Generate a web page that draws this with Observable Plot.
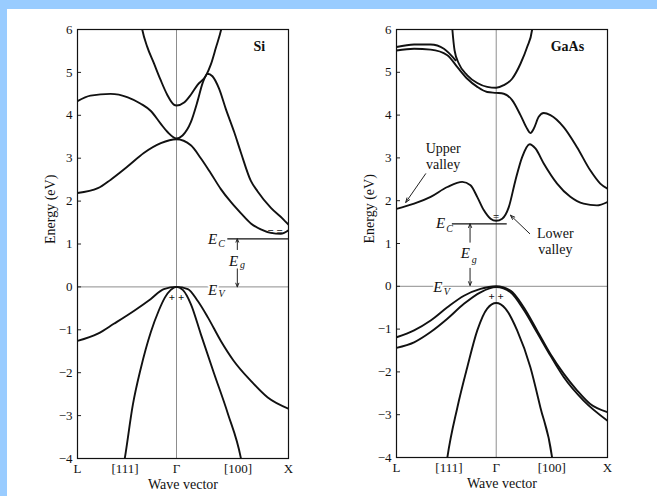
<!DOCTYPE html>
<html><head><meta charset="utf-8">
<script src="https://cdn.jsdelivr.net/npm/d3@7"></script>
<script src="https://cdn.jsdelivr.net/npm/@observablehq/plot@0.6"></script>
<style>
body{margin:0;background:#99ccff;width:657px;height:496px;overflow:hidden;position:relative;font-family:"Liberation Serif",serif}
#sheet{position:absolute;left:7px;top:9px;width:650px;height:487px;background:#fff}
.panel{position:absolute;top:0}
</style></head><body>
<div id="sheet"></div>
<div id="si" class="panel" style="left:0"></div>
<div id="gaas" class="panel" style="left:330px"></div>
<script>
// ---- shared axis data ----
const yTicks = [-4,-3,-2,-1,0,1,2,3,4,5,6];
const xTickLabels = ["L","[111]","Γ","[100]","X"];
const siXTicks = [-0.884,-0.46,0,0.55,1];
const gaasXTicks = [-0.896,-0.425,0,0.5,1];

// ---- Si bands: [k, E(eV)] ----
const siBandA = [[-0.32,6.2],[-0.306,6.0],[-0.262,5.6],[-0.203,5.22],[-0.143,4.83],[-0.083,4.48],[-0.024,4.25],[0,4.23],[0.068,4.3],[0.128,4.48],[0.188,4.71],[0.262,4.92],[0.306,5.18],[0.351,5.57],[0.405,6.07],[0.415,6.2]];
const siBandB = [[-0.884,4.33],[-0.768,4.46],[-0.589,4.5],[-0.435,4.42],[-0.319,4.27],[-0.229,4.1],[-0.14,3.8],[-0.08,3.61],[0,3.46],[0.054,3.53],[0.128,3.84],[0.188,4.33],[0.233,4.75],[0.277,4.97],[0.321,4.91],[0.38,4.62],[0.44,4.15],[0.515,3.61],[0.574,3.14],[0.664,2.47],[0.723,2.23],[0.843,1.84],[0.956,1.57],[1,1.45]];
const siBandC = [[-0.884,2.19],[-0.702,2.3],[-0.587,2.5],[-0.435,2.81],[-0.292,3.12],[-0.14,3.35],[0,3.44],[0.128,3.3],[0.217,3.0],[0.306,2.65],[0.396,2.28],[0.485,1.98],[0.574,1.72],[0.664,1.48],[0.753,1.34],[0.842,1.26],[0.932,1.24],[1,1.32]];
const siBandV1 = [[-0.884,-1.26],[-0.702,-1.09],[-0.56,-0.86],[-0.381,-0.56],[-0.229,-0.28],[-0.113,-0.05],[0,0],[0.101,-0.05],[0.19,-0.33],[0.28,-0.71],[0.396,-1.26],[0.51,-1.72],[0.664,-2.19],[0.815,-2.58],[1,-2.84]];
const siBandV2 = [[-0.475,-4.2],[-0.462,-4.0],[-0.39,-2.75],[-0.319,-1.9],[-0.229,-1.05],[-0.158,-0.55],[-0.104,-0.25],[-0.051,-0.07],[0,0],[0.056,-0.07],[0.128,-0.4],[0.217,-1.1],[0.333,-2.0],[0.458,-2.95],[0.574,-3.98],[0.59,-4.2]];

// ---- GaAs bands: [k, E(eV)] ----
const gaasBandP = [[-0.4,6.2],[-0.394,6.0],[-0.374,5.51],[-0.335,5.2],[-0.26,4.93],[-0.17,4.75],[-0.081,4.66],[0,4.64],[0.068,4.7],[0.143,4.85],[0.218,5.2],[0.278,5.59],[0.323,6.0],[0.33,6.2]];
const gaasBandU1 = [[-0.896,5.59],[-0.738,5.65],[-0.589,5.65],[-0.47,5.55],[-0.365,5.28]];
const gaasBandU2 = [[-0.896,5.51],[-0.738,5.55],[-0.589,5.53],[-0.439,5.4],[-0.349,5.12],[-0.26,4.85],[-0.17,4.66],[-0.081,4.54],[0,4.52],[0.068,4.5],[0.143,4.35],[0.218,4.0],[0.278,3.68],[0.307,3.58],[0.337,3.68],[0.382,3.96],[0.427,4.05],[0.487,4.0],[0.606,3.72],[0.726,3.25],[0.845,2.71],[0.935,2.4],[1,2.28]];
const gaasBandC = [[-0.896,1.81],[-0.738,1.93],[-0.589,2.09],[-0.439,2.32],[-0.305,2.44],[-0.231,2.36],[-0.171,2.09],[-0.112,1.78],[-0.051,1.58],[0,1.53],[0.054,1.58],[0.113,1.85],[0.173,2.48],[0.233,3.02],[0.301,3.32],[0.352,3.22],[0.427,2.87],[0.547,2.4],[0.666,2.09],[0.785,1.93],[0.905,1.89],[1,1.97]];
const gaasBandV1 = [[-0.896,-1.19],[-0.738,-1.03],[-0.589,-0.8],[-0.439,-0.49],[-0.29,-0.22],[-0.141,-0.06],[0,0],[0.128,-0.1],[0.247,-0.49],[0.367,-1.03],[0.487,-1.58],[0.606,-2.04],[0.726,-2.43],[0.845,-2.75],[1,-2.94]];
const gaasBandV2 = [[-0.896,-1.44],[-0.738,-1.31],[-0.589,-1.07],[-0.439,-0.76],[-0.29,-0.41],[-0.141,-0.14],[0,-0.02],[0.128,-0.14],[0.247,-0.55],[0.367,-1.08],[0.487,-1.62],[0.606,-2.12],[0.785,-2.67],[1,-3.14]];
const gaasBandV3 = [[-0.45,-4.2],[-0.439,-4.0],[-0.349,-2.83],[-0.26,-1.89],[-0.17,-1.03],[-0.081,-0.52],[0,-0.39],[0.083,-0.52],[0.188,-1.03],[0.307,-1.89],[0.397,-2.83],[0.502,-4.0],[0.512,-4.2]];

// ---- band edges and annotations ----
const siEc = [{E:1.12, k1:0.458, k2:1}];
const gaasEc = [{E:1.46, k1:-0.394, k2:0.099}];
const siGapArrows = [[0.543,0.87,0.543,1.12],[0.543,0.42,0.543,0]];
const gaasGapArrows = [[-0.235,1.03,-0.235,1.46],[-0.235,0.42,-0.235,0.02]];
const siMath = [{k:0.322,E:1.12,sub:"C",dx:9,dy:5},{k:0.322,E:-0.07,sub:"V",dx:9,dy:4},{k:0.51,E:0.605,sub:"g",dx:9,dy:4}];
const gaasMath = [{k:-0.5,E:1.47,sub:"C",dx:9,dy:5},{k:-0.525,E:-0.02,sub:"V",dx:9,dy:5},{k:-0.278,E:0.77,sub:"g",dx:9,dy:6}];
const siTitle = [{text:"Si",k:0.74,E:5.6}];
const gaasTitle = [{text:"GaAs",k:0.64,E:5.6}];
const gaasNotes = [{text:"Upper\nvalley",k:-0.477,E:3.05},{text:"Lower\nvalley",k:0.531,E:1.07}];
const gaasNoteArrows = [[-0.634,2.63,-0.813,1.96],[0.301,1.23,0.128,1.66]];
const siCarriers = [{text:"+ +",k:0,E:-0.24},{text:"= =",k:0.88,E:1.29}];
const gaasCarriers = [{text:"+ +",k:0,E:-0.23},{text:"=",k:0,E:1.63}];

const FONT = "Liberation Serif";

function panel(c) {
  const tickLabel = new Map(c.xTicks.map((t, i) => [t, xTickLabels[i]]));
  const band = b => Plot.line(b, {x: d => d[0], y: d => d[1], curve: "monotone-x", stroke: "#111", strokeWidth: 1.9, clip: true});
  const tickLen = 0.036;
  return Plot.plot({
    width: c.width, height: 496,
    marginLeft: c.marginLeft, marginRight: c.marginRight, marginTop: 29, marginBottom: c.marginBottom,
    style: {background: "transparent", fontFamily: FONT, fontSize: "13px", color: "#111"},
    x: {domain: c.domain, axis: null},
    y: {domain: [-4, 6], axis: null},
    marks: [
      Plot.ruleX([0], {stroke: "#808080", strokeWidth: 0.9}),
      Plot.ruleY([0], {stroke: "#808080", strokeWidth: 0.9}),
      Plot.ruleY(yTicks, {y: d => d, x1: c.domain[0], x2: c.domain[0] + tickLen, stroke: "#222", strokeWidth: 1}),
      Plot.ruleY(c.ec, {y: "E", x1: "k1", x2: "k2", stroke: "#111", strokeWidth: 1.2}),
      ...c.bands.map(band),
      Plot.arrow(c.gapArrows, {x1: d => d[0], y1: d => d[1], x2: d => d[2], y2: d => d[3], stroke: "#222", strokeWidth: 1, headLength: 6, headAngle: 45}),
      Plot.text(c.math, {x: "k", y: "E", text: () => "E", fontStyle: "italic", fontSize: 15, fill: "#111", stroke: "white", strokeWidth: 4, paintOrder: "stroke"}),
      ...c.math.map(m => Plot.text([m], {x: "k", y: "E", text: "sub", dx: m.dx, dy: m.dy, fontStyle: "italic", fontSize: 10, fill: "#111"})),
      Plot.text(c.title, {x: "k", y: "E", text: "text", fontWeight: "bold", fontSize: 14, fill: "#111"}),
      Plot.text(c.carriers, {x: "k", y: "E", text: "text", fontSize: 11, fontWeight: "bold", fill: "#111"}),
      Plot.text(c.notes, {x: "k", y: "E", text: "text", fontSize: 14, lineHeight: 1.15, fill: "#111"}),
      Plot.arrow(c.noteArrows, {x1: d => d[0], y1: d => d[1], x2: d => d[2], y2: d => d[3], stroke: "#222", strokeWidth: 1, headLength: 7, headAngle: 40}),
      Plot.frame({stroke: "#111", strokeWidth: 1.2}),
      Plot.axisY(yTicks, {anchor: "left", tickSize: 0, tickPadding: 5, label: null, fontSize: 13, tickFormat: d => d < 0 ? "\u2212" + (-d) : String(d)}),
      Plot.axisX(c.xTicks, {anchor: "bottom", tickSize: 0, tickPadding: 5, label: null, fontSize: 13, tickFormat: d => tickLabel.get(d)}),
      Plot.text(["Wave vector"], {frameAnchor: "bottom", dy: 30, fontSize: 14, fill: "#111"}),
      Plot.text(["Energy (eV)"], {frameAnchor: "left", dx: -27, rotate: -90, fontSize: 14, fill: "#111"})
    ]
  });
}

document.getElementById("si").append(panel({
  width: 330, marginLeft: 77, marginRight: 42, marginBottom: 38,
  domain: [-0.884, 1], xTicks: siXTicks,
  bands: [siBandA, siBandB, siBandC, siBandV1, siBandV2],
  ec: siEc, gapArrows: siGapArrows, math: siMath, title: siTitle,
  carriers: siCarriers, notes: [], noteArrows: []
}));
document.getElementById("gaas").append(panel({
  width: 327, marginLeft: 66, marginRight: 50, marginBottom: 39,
  domain: [-0.896, 1], xTicks: gaasXTicks,
  bands: [gaasBandP, gaasBandU1, gaasBandU2, gaasBandC, gaasBandV1, gaasBandV2, gaasBandV3],
  ec: gaasEc, gapArrows: gaasGapArrows, math: gaasMath, title: gaasTitle,
  carriers: gaasCarriers, notes: gaasNotes, noteArrows: gaasNoteArrows
}));
</script>
</body></html>
